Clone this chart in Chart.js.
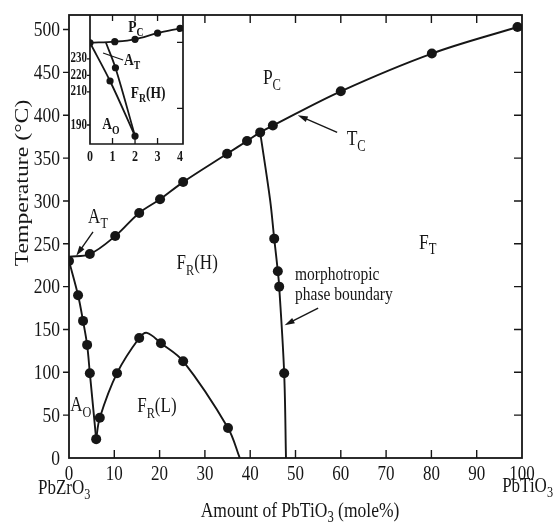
<!DOCTYPE html>
<html lang="en">
<head>
<meta charset="UTF-8">
<title>PbZrO3 - PbTiO3 phase diagram</title>
<script src="https://cdn.jsdelivr.net/npm/chart.js"></script>
<style>
    html, body { margin: 0; padding: 0; background: #fff; }
    #wrap { position: relative; width: 554px; height: 523px; }
    #main { position: absolute; left: 0; top: 0; }
    #inset { position: absolute; left: 60px; top: 5px; }
</style>
</head>
<body>
<div id="wrap">
    <canvas id="main" width="554" height="523"></canvas>
    <canvas id="inset" width="130" height="165"></canvas>
</div>
<script>
    const FONT = '"Liberation Serif", "Times New Roman", serif';
    const INK = '#161616';
    const STRETCH = 1.25;   // the scanned lettering is taller than it is wide

    // ---- main diagram: x = mole% PbTiO3, y = temperature (°C) ----
    const xTicks = [0, 10, 20, 30, 40, 50, 60, 70, 80, 90, 100];
    const yTicks = [0, 50, 100, 150, 200, 250, 300, 350, 400, 450, 500];

    // Curie line T_C (begins with the short flat A_T step)
    const tcX = [0, 4.6, 10.2, 15.5, 20.1, 25.2, 34.9, 39.3, 42.2, 45.0, 60, 80.1, 99];
    const tcT = [235, 238, 259, 286, 302, 322, 355, 370, 380, 388, 428, 472, 503];

    // A_O / F_R(H) boundary
    const aoX = [0, 2.0, 3.1, 4.0, 4.6, 6.0];
    const aoT = [230, 190, 160, 132, 99, 22];

    // F_R(H) / F_R(L) boundary
    const frlX = [6.0, 6.8, 10.6, 15.5, 17.2, 20.3, 25.2, 35.1, 37.7];
    const frlT = [22, 47, 99, 140, 146, 134, 113, 35, 0];

    // morphotropic phase boundary
    const mpbX = [42.2, 44.4, 45.3, 46.1, 46.4, 47.5, 47.9];
    const mpbT = [380, 301, 256, 218, 200, 99, 0];

    // measured points (filled circles)
    const dotX = [0, 4.6, 10.2, 15.5, 20.1, 25.2, 34.9, 39.3, 42.2, 45.0, 60, 80.1, 99,
                  2.0, 3.1, 4.0, 4.6, 6.0,
                  6.8, 10.6, 15.5, 20.3, 25.2, 35.1,
                  45.3, 46.1, 46.4, 47.5];
    const dotT = [230, 238, 259, 286, 302, 322, 355, 370, 380, 388, 428, 472, 503,
                  190, 160, 132, 99, 22,
                  47, 99, 140, 134, 113, 35,
                  256, 218, 200, 99];

    // ---- inset: 0-4 mole% PbTiO3 ----
    const insetXTicks = [0, 1, 2, 3, 4];
    const insetYTicks = [190, 210, 220, 230];

    const inTopX = [0, 1.1, 2, 3, 4];
    const inTopT = [239.7, 240.4, 241.8, 245.5, 248.4];
    const inLeftX = [0, 0.89, 2.0];
    const inLeftT = [239.7, 216.6, 183.3];
    const inRightX = [0.71, 1.13, 2.0];
    const inRightT = [239.7, 224.6, 183.3];
    const inDotX = [0, 1.1, 2, 3, 4, 0.89, 1.13, 2.0];
    const inDotT = [239.7, 240.4, 241.8, 245.5, 248.4, 216.6, 224.6, 183.3];

    // text placed in data coordinates ("_" marks a one-letter subscript)
    const mainLabels = [
        { text: 'P_C', x: 44.8, t: 443, size: 17.5 },
        { text: 'T_C', x: 63.4, t: 372, size: 17.5 },
        { text: 'F_T', x: 79.2, t: 251, size: 17.5 },
        { text: 'F_R(H)', x: 28.3, t: 227, size: 17 },
        { text: 'F_R(L)', x: 19.4, t: 60, size: 17 },
        { text: 'A_O', x: 2.6, t: 61, size: 17 },
        { text: 'A_T', x: 6.4, t: 281, size: 17 }
    ];
    const mainArrows = [
        { from: [5.3, 264], to: [1.6, 236] },
        { from: [59.2, 380], to: [50.5, 400] },
        { from: [55, 175], to: [47.6, 155] }
    ];
    const insetLabels = [
        { text: 'P_C', x: 2.04, t: 249 },
        { text: 'A_T', x: 1.87, t: 229 },
        { text: 'F_R(H)', x: 2.58, t: 209 },
        { text: 'A_O', x: 0.93, t: 190 }
    ];

    function pts(xs, ys) {
        return xs.map((x, i) => ({ x: x, y: ys[i] }));
    }

    function lineSet(xs, ys, w) {
        return {
            data: pts(xs, ys), showLine: true, pointRadius: 0, borderColor: INK,
            borderWidth: w, tension: 0.35, fill: false
        };
    }

    // draw text with one-letter subscripts written as "_X", stretched vertically
    function rich(ctx, text, x, y, size, align, weight, vs) {
        vs = vs || STRETCH;
        const parts = [];
        for (let i = 0; i < text.length; i++) {
            if (text[i] === '_' && i + 1 < text.length) { parts.push([text[i + 1], true]); i++; }
            else if (parts.length && !parts[parts.length - 1][1]) parts[parts.length - 1][0] += text[i];
            else parts.push([text[i], false]);
        }
        const font = sub => (weight || '') + ' ' + (sub ? size * 0.72 : size) + 'px ' + FONT;
        let w = 0;
        parts.forEach(p => { ctx.font = font(p[1]); w += ctx.measureText(p[0]).width; });
        let cx = align === 'center' ? -w / 2 : (align === 'right' ? -w : 0);
        ctx.save();
        ctx.translate(x, y);
        ctx.scale(1, vs);
        ctx.textAlign = 'left';
        ctx.textBaseline = 'middle';
        ctx.fillStyle = INK;
        parts.forEach(p => {
            ctx.font = font(p[1]);
            ctx.fillText(p[0], cx, p[1] ? size * 0.33 : 0);
            cx += ctx.measureText(p[0]).width;
        });
        ctx.restore();
    }

    function arrow(ctx, x1, y1, x2, y2) {
        const a = Math.atan2(y2 - y1, x2 - x1);
        ctx.beginPath();
        ctx.moveTo(x1, y1);
        ctx.lineTo(x2 - 6 * Math.cos(a), y2 - 6 * Math.sin(a));
        ctx.stroke();
        ctx.beginPath();
        ctx.moveTo(x2, y2);
        ctx.lineTo(x2 - 10 * Math.cos(a) + 3 * Math.sin(a), y2 - 10 * Math.sin(a) - 3 * Math.cos(a));
        ctx.lineTo(x2 - 10 * Math.cos(a) - 3 * Math.sin(a), y2 - 10 * Math.sin(a) + 3 * Math.cos(a));
        ctx.closePath();
        ctx.fill();
    }

    const mainDecor = {
        id: 'mainDecor',
        afterDraw(chart) {
            const ctx = chart.ctx, a = chart.chartArea;
            const sx = chart.scales.x, sy = chart.scales.y;
            ctx.save();
            ctx.strokeStyle = INK;
            ctx.fillStyle = INK;
            ctx.lineWidth = 1.8;
            ctx.strokeRect(a.left, a.top, a.right - a.left, a.bottom - a.top);

            // ticks: left outward, others inward
            ctx.lineWidth = 1.4;
            ctx.beginPath();
            xTicks.forEach(v => {
                const px = sx.getPixelForValue(v);
                if (v > 0 && v < 100) {
                    ctx.moveTo(px, a.bottom); ctx.lineTo(px, a.bottom - 8);
                    if (v > 25) { ctx.moveTo(px, a.top); ctx.lineTo(px, a.top + 8); }
                }
            });
            yTicks.forEach(v => {
                const py = sy.getPixelForValue(v);
                if (v > 0) {
                    ctx.moveTo(a.left, py); ctx.lineTo(a.left - 6, py);
                    ctx.moveTo(a.right, py); ctx.lineTo(a.right - 8, py);
                }
            });
            ctx.stroke();

            // tick labels
            xTicks.forEach(v => rich(ctx, String(v), sx.getPixelForValue(v), a.bottom + 16, 17, 'center'));
            yTicks.forEach(v => rich(ctx, String(v), a.left - 9, sy.getPixelForValue(v) + 1, 17.5, 'right'));

            mainLabels.forEach(l => {
                rich(ctx, l.text, sx.getPixelForValue(l.x), sy.getPixelForValue(l.t), l.size, 'center');
            });
            rich(ctx, 'morphotropic', sx.getPixelForValue(49.9), sy.getPixelForValue(214), 15.5, 'left');
            rich(ctx, 'phase boundary', sx.getPixelForValue(49.9), sy.getPixelForValue(190), 15.5, 'left');

            ctx.lineWidth = 1.4;
            mainArrows.forEach(r => {
                arrow(ctx, sx.getPixelForValue(r.from[0]), sy.getPixelForValue(r.from[1]),
                      sx.getPixelForValue(r.to[0]), sy.getPixelForValue(r.to[1]));
            });

            // axis titles and end members
            rich(ctx, 'PbZrO_3', 38, 488, 17, 'left');
            rich(ctx, 'PbTiO_3', 553, 486, 17, 'right');
            rich(ctx, 'Amount of PbTiO_3 (mole%)', 300, 511, 17.5, 'center');
            ctx.translate(23, 183);
            ctx.rotate(-Math.PI / 2);
            ctx.scale(STRETCH, 1);
            ctx.font = '19px ' + FONT;
            ctx.textAlign = 'center';
            ctx.textBaseline = 'middle';
            ctx.fillText('Temperature (°C)', 0, 0);
            ctx.restore();
        }
    };

    new Chart(document.getElementById('main'), {
        type: 'scatter',
        data: {
            datasets: [
                lineSet(tcX, tcT, 1.9),
                lineSet(aoX, aoT, 1.9),
                lineSet(frlX, frlT, 1.9),
                lineSet(mpbX, mpbT, 1.9),
                { data: pts(dotX, dotT), pointRadius: 5, pointBackgroundColor: INK, pointBorderWidth: 0 }
            ]
        },
        options: {
            responsive: false,
            animation: false,
            layout: { padding: { top: 15, right: 32, left: 0, bottom: 0 } },
            plugins: { legend: { display: false }, tooltip: { enabled: false } },
            scales: {
                x: {
                    type: 'linear', min: 0, max: 100,
                    afterBuildTicks: s => { s.ticks = xTicks.map(v => ({ value: v })); },
                    afterFit: s => { s.height = 65; },
                    grid: { display: false, drawTicks: false },
                    border: { display: false },
                    ticks: { display: false }
                },
                y: {
                    type: 'linear', min: 0, max: 517,
                    afterBuildTicks: s => { s.ticks = yTicks.map(v => ({ value: v })); },
                    afterFit: s => { s.width = 69; },
                    grid: { display: false, drawTicks: false },
                    border: { display: false },
                    ticks: { display: false }
                }
            }
        },
        plugins: [mainDecor]
    });

    const insetDecor = {
        id: 'insetDecor',
        afterDraw(chart) {
            const ctx = chart.ctx, a = chart.chartArea;
            const sx = chart.scales.x, sy = chart.scales.y;
            ctx.save();
            ctx.strokeStyle = INK;
            ctx.fillStyle = INK;
            ctx.lineWidth = 1.7;
            ctx.beginPath();
            ctx.moveTo(a.left, a.top); ctx.lineTo(a.left, a.bottom); ctx.lineTo(a.right, a.bottom); ctx.lineTo(a.right, a.top);
            ctx.stroke();
            ctx.lineWidth = 1.3;
            ctx.beginPath();
            insetXTicks.forEach(v => {
                const px = sx.getPixelForValue(v);
                if (v > 0 && v < 4) {
                    ctx.moveTo(px, a.bottom); ctx.lineTo(px, a.bottom - 6);
                    ctx.moveTo(px, a.top); ctx.lineTo(px, a.top + 6);
                }
            });
            insetYTicks.forEach(v => {
                const py = sy.getPixelForValue(v);
                ctx.moveTo(a.left, py); ctx.lineTo(a.left - 3, py);
            });
            [200, 240].forEach(v => {
                const py = sy.getPixelForValue(v);
                ctx.moveTo(a.right, py); ctx.lineTo(a.right - 6, py);
            });
            ctx.stroke();

            insetXTicks.forEach(v => rich(ctx, String(v), sx.getPixelForValue(v), a.bottom + 13, 12, 'center', 'bold'));
            insetYTicks.forEach(v => rich(ctx, String(v), a.left - 3, sy.getPixelForValue(v), 11, 'right', 'bold'));

            insetLabels.forEach(l => {
                rich(ctx, l.text, sx.getPixelForValue(l.x), sy.getPixelForValue(l.t), 13.5, 'center', 'bold');
            });
            ctx.lineWidth = 1.2;
            ctx.beginPath();
            ctx.moveTo(sx.getPixelForValue(0.58), sy.getPixelForValue(233.5));
            ctx.lineTo(sx.getPixelForValue(1.47), sy.getPixelForValue(229.3));
            ctx.stroke();
            ctx.restore();
        }
    };

    new Chart(document.getElementById('inset'), {
        type: 'scatter',
        data: {
            datasets: [
                lineSet(inTopX, inTopT, 1.8),
                lineSet(inLeftX, inLeftT, 1.8),
                lineSet(inRightX, inRightT, 1.8),
                { data: pts(inDotX, inDotT), pointRadius: 3.6, pointBackgroundColor: INK, pointBorderWidth: 0 }
            ]
        },
        options: {
            responsive: false,
            animation: false,
            layout: { padding: { top: 10, right: 7, left: 0, bottom: 0 } },
            plugins: { legend: { display: false }, tooltip: { enabled: false } },
            scales: {
                x: {
                    type: 'linear', min: 0, max: 4.13,
                    afterBuildTicks: s => { s.ticks = insetXTicks.map(v => ({ value: v })); },
                    afterFit: s => { s.height = 26; },
                    grid: { display: false, drawTicks: false },
                    border: { display: false },
                    ticks: { display: false }
                },
                y: {
                    type: 'linear', min: 178.5, max: 256.5,
                    afterBuildTicks: s => { s.ticks = insetYTicks.map(v => ({ value: v })); },
                    afterFit: s => { s.width = 30; },
                    grid: { display: false, drawTicks: false },
                    border: { display: false },
                    ticks: { display: false }
                }
            }
        },
        plugins: [insetDecor]
    });
</script>
</body>
</html>
